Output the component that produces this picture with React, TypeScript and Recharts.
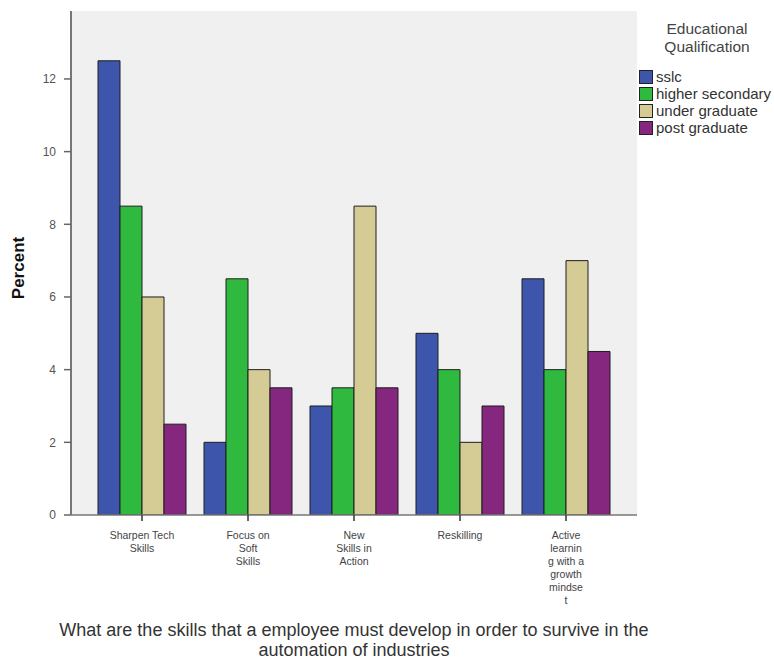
import React from "react";
import {
  BarChart,
  Bar,
  XAxis,
  YAxis,
  CartesianGrid,
  Legend,
  Label,
} from "recharts";

const categories = [
  "Sharpen Tech Skills",
  "Focus on Soft Skills",
  "New Skills in Action",
  "Reskilling",
  "Active learning with a growth mindset",
];

// wrapped tick text, as printed under each category
const categoryLines = [
  ["Sharpen Tech", "Skills"],
  ["Focus on", "Soft", "Skills"],
  ["New", "Skills in", "Action"],
  ["Reskilling"],
  ["Active", "learnin", "g with a", "growth", "mindse", "t"],
];

const sslc = [12.5, 2, 3, 5, 6.5];
const higherSecondary = [8.5, 6.5, 3.5, 4, 4];
const underGraduate = [6, 4, 8.5, 2, 7];
const postGraduate = [2.5, 3.5, 3.5, 3, 4.5];

const yTicks = [0, 2, 4, 6, 8, 10, 12];
const yMax = 13.87;

const series = [
  { key: "sslc", name: "sslc", color: "#3d56ab" },
  { key: "higherSecondary", name: "higher secondary", color: "#2fba3f" },
  { key: "underGraduate", name: "under graduate", color: "#d4cb95" },
  { key: "postGraduate", name: "post graduate", color: "#85267f" },
];

const data = categories.map((c, i) => ({
  category: c,
  sslc: sslc[i],
  higherSecondary: higherSecondary[i],
  underGraduate: underGraduate[i],
  postGraduate: postGraduate[i],
}));

const FONT = "'Liberation Sans', Arial, sans-serif";

const CategoryTick = (props: any) => {
  const { x, y, index } = props;
  const lines = categoryLines[index] || [];
  return (
    <text
      x={x}
      y={y}
      textAnchor="middle"
      fontFamily={FONT}
      fontSize={10.5}
      fill="#444"
    >
      {lines.map((l: string, i: number) => (
        <tspan key={i} x={x} dy={i === 0 ? 16 : 13}>
          {l}
        </tspan>
      ))}
    </text>
  );
};

const AxisTitle = (props: any) => {
  const vb = props.viewBox || {};
  const cx = vb.x + vb.width / 2;
  return (
    <text
      x={cx}
      y={636}
      textAnchor="middle"
      fontFamily={FONT}
      fontSize={18}
      fill="#333"
    >
      <tspan x={cx}>
        What are the skills that a employee must develop in order to survive in the
      </tspan>
      <tspan x={cx} dy={20}>
        automation of industries
      </tspan>
    </text>
  );
};

const PercentTitle = () => (
  <text
    x={24}
    y={268}
    transform="rotate(-90 24 268)"
    textAnchor="middle"
    fontFamily={FONT}
    fontSize={17}
    fontWeight="bold"
    fill="#111"
  >
    Percent
  </text>
);

const LegendBox = () => (
  <div style={{ fontFamily: FONT, color: "#333", width: 140 }}>
    <div
      style={{
        textAlign: "center",
        fontSize: 15.5,
        lineHeight: "18px",
        color: "#444",
        marginBottom: 12,
        width: 136,
      }}
    >
      <div>Educational</div>
      <div>Qualification</div>
    </div>
    {series.map((s) => (
      <div
        key={s.key}
        style={{
          display: "flex",
          alignItems: "center",
          height: 17,
          fontSize: 15,
          whiteSpace: "nowrap",
        }}
      >
        <span
          style={{
            display: "inline-block",
            width: 12,
            height: 12,
            background: s.color,
            border: "1px solid #222",
            marginRight: 3,
          }}
        />
        {s.name}
      </div>
    ))}
  </div>
);

export default function App() {
  return (
    <div style={{ position: "absolute", left: 0, top: 0, background: "#fff", overflow: "hidden" }}>
      <BarChart
        width={774}
        height={659}
        data={data}
        margin={{ top: 11, right: 137, bottom: 0, left: 0 }}
        barGap={0}
        barCategoryGap={9}
      >
        <CartesianGrid fill="#f0f0f0" horizontal={false} vertical={false} />
        <XAxis
          dataKey="category"
          interval={0}
          padding={{ left: 18, right: 18 }}
          height={144}
          tick={<CategoryTick />}
          tickSize={6}
          tickLine={{ stroke: "#333", strokeWidth: 1.5 }}
          axisLine={{ stroke: "#777", strokeWidth: 1.5 }}
        >
          <Label content={<AxisTitle />} />
        </XAxis>
        <XAxis
          xAxisId="top"
          orientation="top"
          dataKey="category"
          height={0}
          tick={false}
          tickLine={false}
          axisLine={{ stroke: "#888", strokeWidth: 1.5 }}
        />
        <YAxis
          width={71}
          domain={[0, yMax]}
          ticks={yTicks}
          interval={0}
          tickSize={7}
          tickMargin={8}
          tick={{ fontFamily: FONT, fontSize: 12, fill: "#555" }}
          tickLine={{ stroke: "#666", strokeWidth: 1.5 }}
          axisLine={{ stroke: "#777", strokeWidth: 2 }}
          allowDataOverflow
        >
          <Label content={<PercentTitle />} />
        </YAxis>
        <YAxis
          yAxisId="right"
          orientation="right"
          width={0}
          domain={[0, yMax]}
          tick={false}
          tickLine={false}
          axisLine={{ stroke: "#888", strokeWidth: 1.5 }}
        />
        <Legend
          layout="vertical"
          align="right"
          verticalAlign="top"
          content={<LegendBox />}
          wrapperStyle={{
            position: "absolute",
            left: 639,
            top: 20,
            width: 0,
            height: 0,
            overflow: "visible",
          }}
        />
        {series.map((s) => (
          <Bar
            key={s.key}
            dataKey={s.key}
            name={s.name}
            fill={s.color}
            stroke="#1e1e1e"
            strokeWidth={1}
            isAnimationActive={false}
          />
        ))}
      </BarChart>
    </div>
  );
}
